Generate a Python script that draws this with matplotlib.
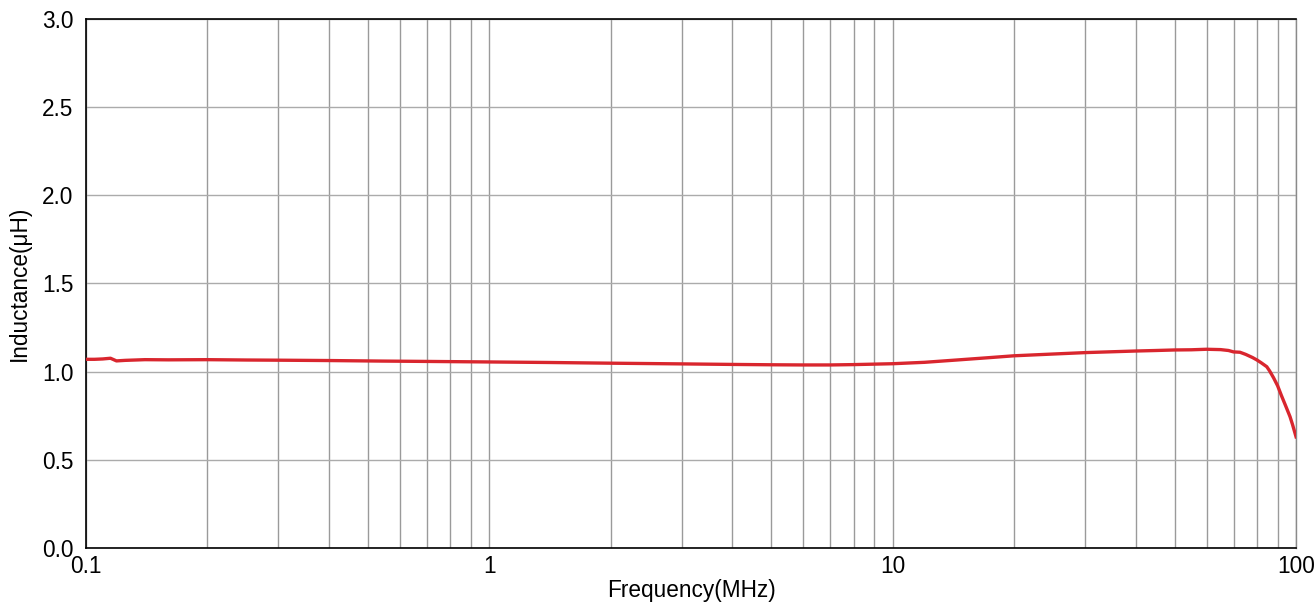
import matplotlib
matplotlib.use("Agg")
import matplotlib.pyplot as plt
from matplotlib.ticker import FixedLocator, LogLocator, NullFormatter

# frequency in MHz, inductance in uH
freq = [0.1, 0.105, 0.11, 0.115, 0.119, 0.125, 0.14, 0.16, 0.2, 0.25, 0.3,
        0.4, 0.54, 0.7, 1.0, 1.4, 2.0, 3.0, 4.0, 5.0, 6.0, 7.0, 8.0, 10,
        12, 14.4, 17, 20, 25, 30, 40, 45, 50, 55, 60, 65, 68, 70, 72.6, 75,
        78, 80, 82, 84.6, 86, 88, 90, 92, 94, 96.6, 98, 100]
inductance = [1.070, 1.070, 1.072, 1.076, 1.061, 1.064, 1.068, 1.067, 1.068,
              1.066, 1.065, 1.063, 1.060, 1.058, 1.055, 1.052, 1.048, 1.044,
              1.041, 1.039, 1.038, 1.038, 1.040, 1.045, 1.053, 1.066, 1.078,
              1.090, 1.100, 1.108, 1.117, 1.120, 1.123, 1.124, 1.127, 1.125,
              1.120, 1.112, 1.110, 1.098, 1.080, 1.066, 1.050, 1.028, 1.004,
              0.964, 0.920, 0.864, 0.812, 0.745, 0.700, 0.630]

x_ticks = [0.1, 1, 10, 100]
x_labels = ["0.1", "1", "10", "100"]
y_ticks = [0.0, 0.5, 1.0, 1.5, 2.0, 2.5, 3.0]

plt.rcParams['font.family'] = ['Liberation Sans', 'DejaVu Sans']

fig = plt.figure(figsize=(13.15, 6.09), dpi=100)
ax = fig.add_axes([0.0654, 0.1002, 0.9202, 0.8686])

ax.plot(freq, inductance, color='#d9262e', linewidth=2.4, zorder=3)

ax.set_xscale('log')
ax.set_xlim(0.1, 100)
ax.set_ylim(0, 3.0)

ax.xaxis.set_major_locator(FixedLocator(x_ticks))
ax.set_xticklabels(x_labels)
ax.xaxis.set_minor_locator(LogLocator(base=10, subs=range(2, 10)))
ax.xaxis.set_minor_formatter(NullFormatter())
ax.set_yticks(y_ticks)
ax.set_yticklabels([f"{v:.1f}" for v in y_ticks])

ax.grid(True, which='both', axis='x', color='#9a9a9a', linewidth=1.0)
ax.grid(True, which='major', axis='y', color='#ababab', linewidth=1.0)

ax.tick_params(axis='both', which='both', length=0, labelsize=16.3, colors='black')
ax.tick_params(axis='y', pad=9)
ax.tick_params(axis='x', pad=5)

for side in ['left', 'bottom', 'top']:
    ax.spines[side].set_color('black')
    ax.spines[side].set_linewidth(1.2)
ax.spines['right'].set_color('#8a8a8a')
ax.spines['right'].set_linewidth(1.0)

ax.set_xlabel("Frequency(MHz)", fontsize=16.3, labelpad=1)
ax.set_ylabel("Inductance(\u03bcH)", fontsize=16.3, labelpad=8)

fig.savefig("out.png", dpi=100)
